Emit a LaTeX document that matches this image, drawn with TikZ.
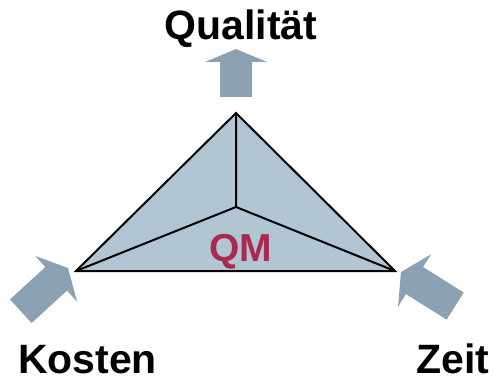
\documentclass[tikz,border=0pt]{standalone}
\usepackage{fontspec}
\setmainfont{Liberation Sans}
\definecolor{arrowcol}{RGB}{138,162,180}
\definecolor{trifill}{RGB}{178,197,211}
\definecolor{qmcol}{RGB}{168,42,76}
\tikzset{
  label/.style={font=\bfseries\fontsize{41}{41}\selectfont, anchor=base, inner sep=0pt},
  edge/.style={line width=2pt, line join=miter, black},
  blockarrow/.pic={
    \fill[arrowcol] (0,0) -- (-\ah,\aw) -- (-\ah,\as) -- (-\al,\as) -- (-\al,-\as) -- (-\ah,-\as) -- (-\ah,-\aw) -- cycle;
  }
}
\newcommand{\ah}{15}
\newcommand{\aw}{31}
\newcommand{\as}{16}
\newcommand{\al}{64}
\begin{document}
\begin{tikzpicture}[x=1pt,y=-1pt]
\useasboundingbox (0,0) rectangle (495,377);
% triangle
\coordinate (T) at (236,113);
\coordinate (L) at (76,271);
\coordinate (R) at (395,271);
\coordinate (C) at (236,207);
\fill[trifill] (T) -- (L) -- (R) -- cycle;
\draw[edge] (T) -- (C) (L) -- (C) -- (R);
\draw[edge] (T) -- (L) -- (R) -- cycle;
\node[label, text=qmcol, font=\bfseries\fontsize{39}{39}\selectfont] (qm) at (240.5,261) {QM};
% arrows
\renewcommand{\al}{48}\renewcommand{\ah}{13}
\pic[shift={(236,49)}, rotate=90] {blockarrow};
\renewcommand{\al}{64}\renewcommand{\ah}{16}
\pic[shift={(68,268)}, rotate=42.5] {blockarrow};
\pic[shift={(401,272)}, rotate=147.8] {blockarrow};
% labels
\node[label] (q) at (241,40) {Qualität};
\node[label] (k) at (87.5,373) {Kosten};
\node[label] (z) at (453,373) {Zeit};
\end{tikzpicture}
\end{document}
